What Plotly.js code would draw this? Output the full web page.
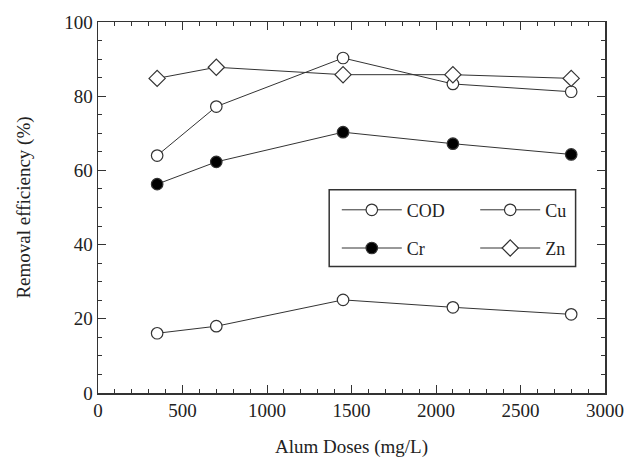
<!DOCTYPE html>
<html>
<head>
<meta charset="utf-8">
<script src="https://cdn.plot.ly/plotly-3.0.1.min.js"></script>
<style>html,body{margin:0;padding:0;background:#fff;}#chart{width:640px;height:462px;}</style>
</head>
<body>
<div id="chart"></div>
<script>
const doses = [350, 700, 1450, 2100, 2800];
const cod = [16.1, 18.0, 25.1, 23.1, 21.2];
const cu = [64.0, 77.2, 90.3, 83.3, 81.2];
const cr = [56.3, 62.3, 70.3, 67.2, 64.3];
const zn = [84.8, 87.8, 85.8, 85.8, 84.8];

const font = {family: 'Liberation Serif, Times New Roman, serif', color: '#222', size: 19};
const legendFont = {family: 'Liberation Serif, Times New Roman, serif', color: '#222', size: 18};
const lineStyle = {color: '#333', width: 1};

function tr(name, y, symbol, fill, size, legend) {
  return {
    x: doses, y: y, name: name, type: 'scatter', mode: 'lines+markers',
    line: lineStyle,
    marker: {symbol: symbol, size: size, color: fill, line: {color: '#333', width: 1.2}},
    legend: legend
  };
}

const data = [
  tr('COD', cod, 'circle', '#fff', 11.5, 'legend'),
  tr('Cr', cr, 'circle', '#000', 11.5, 'legend2'),
  tr('Cu', cu, 'circle', '#fff', 11.5, 'legend3'),
  tr('Zn', zn, 'diamond', '#fff', 12.5, 'legend4')
];

const axisCommon = {
  showgrid: false, zeroline: false, showline: true, linecolor: '#333', linewidth: 1.5,
  mirror: 'ticks', ticks: 'inside', ticklen: 8, tickcolor: '#333', tickwidth: 1,
  tickfont: font
};

const legendCommon = {
  bgcolor: 'rgba(0,0,0,0)', borderwidth: 0, font: legendFont, itemwidth: 60,
  yanchor: 'middle', xanchor: 'left', orientation: 'v'
};

const layout = {
  width: 640, height: 462,
  margin: {l: 97.5, r: 34.5, t: 22, b: 68.5},
  paper_bgcolor: '#fff', plot_bgcolor: '#fff',
  font: font,
  showlegend: true,
  xaxis: Object.assign({}, axisCommon, {
    range: [0, 3000], dtick: 500, tick0: 0,
    minor: {dtick: 100, ticks: 'inside', ticklen: 4, tickcolor: '#333', tickwidth: 1},
    title: {text: 'Alum Doses (mg/L)', font: font, standoff: 19}
  }),
  yaxis: Object.assign({}, axisCommon, {
    range: [0, 100], dtick: 20, tick0: 0,
    minor: {dtick: 5, ticks: 'inside', ticklen: 4, tickcolor: '#333', tickwidth: 1},
    title: {text: 'Removal efficiency (%)', font: font, standoff: 28}
  }),
  legend: Object.assign({}, legendCommon, {x: 0.471, y: 0.493}),
  legend2: Object.assign({}, legendCommon, {x: 0.471, y: 0.39}),
  legend3: Object.assign({}, legendCommon, {x: 0.744, y: 0.493}),
  legend4: Object.assign({}, legendCommon, {x: 0.744, y: 0.39}),
  shapes: [{
    type: 'rect', xref: 'paper', yref: 'paper',
    x0: 0.456, x1: 0.942, y0: 0.341, y1: 0.548,
    line: {color: '#333', width: 1.5}, fillcolor: 'rgba(0,0,0,0)', layer: 'below'
  }]
};

Plotly.newPlot('chart', data, layout, {staticPlot: true, displayModeBar: false});
</script>
</body>
</html>
